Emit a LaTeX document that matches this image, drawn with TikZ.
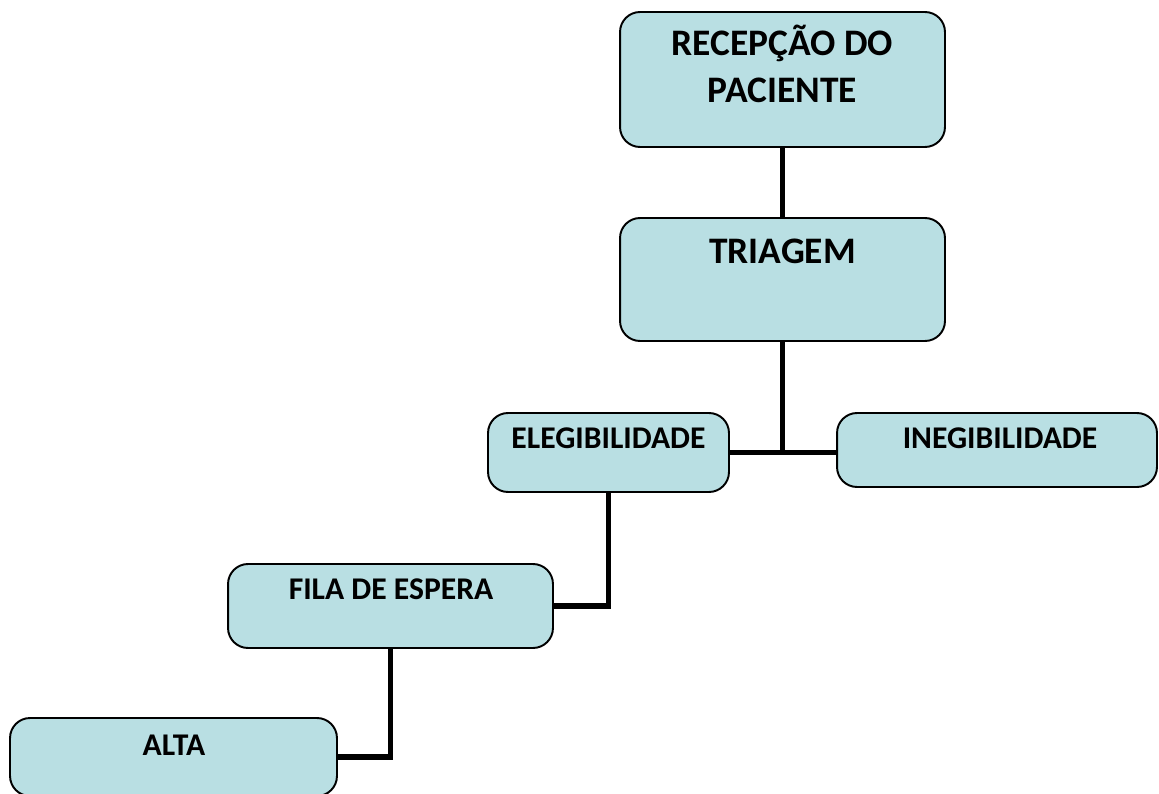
\documentclass[tikz,border=0pt]{standalone}
\usepackage{fontspec}
\setmainfont{Carlito}
\definecolor{boxfill}{RGB}{185,223,227}
\begin{document}
\begin{tikzpicture}[x=0.02cm, y=-0.02cm]
\tikzstyle{box}=[rectangle, rounded corners=0.4cm, draw=black, line width=1.1pt, fill=boxfill]
\tikzstyle{big}=[font=\fontsize{21.3}{27.2}\selectfont\bfseries, align=center, anchor=base, inner sep=0pt]
\tikzstyle{small}=[font=\fontsize{18}{20}\selectfont\bfseries, anchor=base, inner sep=0pt]
\tikzstyle{connect}=[line width=3.2pt]
\useasboundingbox (0,0) rectangle (1159,794);
    \node[box, minimum width=6.5cm, minimum height=2.7cm]   (rec) at (782.5,79.5) { };
    \node[box, minimum width=6.5cm, minimum height=2.46cm]  (tri) at (782.5,279.5) { };
    \node[box, minimum width=4.82cm, minimum height=1.58cm] (ele) at (608.5,452.5) { };
    \node[box, minimum width=6.4cm, minimum height=1.48cm]  (ine) at (997,450) { };
    \node[box, minimum width=6.5cm, minimum height=1.68cm]  (fil) at (390.5,606) { };
    \node[box, minimum width=6.54cm, minimum height=1.56cm] (alt) at (173.5,757) { };
    \node[big]   (recT) at (782.5,103) {RECEPÇÃO DO\\PACIENTE};
    \node[big]   (triT) at (782.5,263) {TRIAGEM};
    \node[small] (eleT) at (608.5,448) {ELEGIBILIDADE};
    \node[small] (ineT) at (1000,448)  {INEGIBILIDADE};
    \node[small] (filT) at (391,599)   {FILA DE ESPERA};
    \node[small] (altT) at (174,755)   {ALTA};
    \draw[connect] (rec) -- (tri);
    \draw[connect] (tri.south) -- (tri.south |- ele.east);
    \draw[connect] (ele.east) -- (ine.west |- ele.east);
    \draw[connect] (ele.south) |- (fil.east);
    \draw[connect] (fil.south) |- (alt.east);
\end{tikzpicture}
\end{document}
